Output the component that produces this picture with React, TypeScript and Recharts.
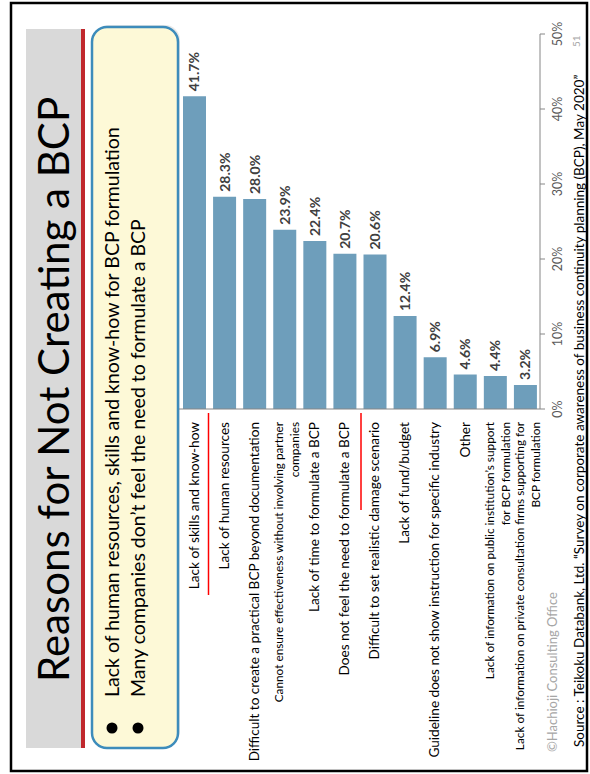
import React from 'react';
import { BarChart, Bar, XAxis, YAxis, LabelList } from 'recharts';

const categories = [
  'Lack of skills and know-how',
  'Lack of human resources',
  'Difficult to create a practical BCP beyond documentation',
  'Cannot ensure effectiveness without involving partner\ncompanies',
  'Lack of time to formulate a BCP',
  'Does not feel the need to formulate a BCP',
  'Difficult to set realistic damage scenario',
  'Lack of fund/budget',
  'Guideline does not show instruction for specific industry',
  'Other',
  'Lack of information on public institution\u2019s support\nfor BCP formulation',
  'Lack of information on private consultation firms supporting for\nBCP formulation',
];
const values = [41.7, 28.3, 28.0, 23.9, 22.4, 20.7, 20.6, 12.4, 6.9, 4.6, 4.4, 3.2];
const tickValues = [0, 10, 20, 30, 40, 50];
const title = 'Reasons for Not Creating a BCP';
const bullets = [
  'Lack of human resources, skills and know-how for BCP formulation',
  'Many companies don\u2019t feel the need to formulate a BCP',
];
const footer = '\u00A9Hachioji Consulting Office';
const source = 'Source : Teikoku Databank, Ltd. \u201CSurvey on corporate awareness of business continuity planning (BCP), May 2020\u201D';
const pageNo = '51';

const FONT = 'Lato, "Open Sans", sans-serif';

const CategoryTick = (props: any) => {
  const { x, y, payload } = props;
  const lines = String(payload.value).split('\n');
  const multi = lines.length > 1;
  const fs = multi ? 11.8 : 13.6;
  const lh = multi ? 16 : 15;
  const startY = y - ((lines.length - 1) * lh) / 2 + (multi ? 3 : 0);
  return (
    <text x={x} y={startY} textAnchor="end" fontFamily={FONT} fontSize={fs} fill="#000">
      {lines.map((l, i) => (
        <tspan key={i} x={x} y={startY + i * lh} dy="0.35em">{l}</tspan>
      ))}
    </text>
  );
};

export default function App() {
  const data = categories.map((c, i) => ({ name: c, value: values[i] }));
  return (
    <div
      style={{
        position: 'absolute',
        left: 0,
        top: 0,
        width: 774,
        height: 590,
        transformOrigin: '0 0',
        transform: 'rotate(-90deg) translateX(-774px)',
        background: '#fff',
        fontFamily: FONT,
      }}
    >
      <svg width={774} height={590} style={{ position: 'absolute', left: 0, top: 0 }}>
        <rect x={3} y={11} width={768} height={576} fill="#fff" stroke="#000" strokeWidth={2.5} />
        <rect x={26} y={26} width={719} height={55} fill="#d9d9d9" />
        <rect x={26} y={81} width={719} height={4} fill="#c0282d" />
        <text x={92} y={69} fontFamily={FONT} fontSize={42} fontWeight={400} fill="#000">{title}</text>
        <rect x={28} y={94} width={721} height={86} rx={15} ry={15} fill="#d8d8d8" opacity={0.6} />
        <rect x={26} y={92} width={721} height={86} rx={15} ry={15} fill="#fdf9d7" stroke="#3d8cbb" strokeWidth={2.5} />
        {bullets.map((b, i) => (
          <g key={i}>
            <circle cx={46} cy={112 + i * 26} r={5.5} fill="#000" />
            <text x={77} y={118.5 + i * 26} fontFamily={FONT} fontSize={19.5} fill="#000">{b}</text>
          </g>
        ))}
        <line x1={179} x2={361} y1={208.5} y2={208.5} stroke="#ff0000" strokeWidth={1.5} />
        <line x1={264} x2={361} y1={361} y2={361} stroke="#ff0000" strokeWidth={1.5} />
        <text x={22} y={557} fontFamily={FONT} fontSize={13} fill="#a6a6a6">{footer}</text>
        <text x={27} y={584} fontFamily={FONT} fontSize={13.5} fill="#000">{source}</text>
        <text x={727} y={580} fontFamily={FONT} fontSize={10} fill="#a6a6a6">{pageNo}</text>
      </svg>
      <div style={{ position: 'absolute', left: 0, top: 0 }}>
        <BarChart
          width={774}
          height={590}
          data={data}
          layout="vertical"
          margin={{ top: 179, right: 34, bottom: 20, left: 10 }}
          barSize={23}
        >
          <XAxis
            type="number"
            domain={[0, 50]}
            ticks={tickValues}
            tickFormatter={(v: number) => `${v}%`}
            axisLine={{ stroke: '#868686' }}
            tickLine={{ stroke: '#868686' }}
            tickSize={5}
            tickMargin={8}
            height={30}
            tick={{ fill: '#595959', fontSize: 12.5, fontFamily: FONT }}
            interval={0}
          />
          <YAxis
            type="category"
            dataKey="name"
            width={355}
            axisLine={{ stroke: '#868686' }}
            tickLine={false}
            tickSize={0}
            tickMargin={13}
            interval={0}
            tick={<CategoryTick />}
          />
          <Bar dataKey="value" fill="#6e9ebb" isAnimationActive={false}>
            <LabelList
              dataKey="value"
              position="right"
              offset={5}
              formatter={(v: any) => `${Number(v).toFixed(1)}%`}
              fill="#404040"
              fontSize={14}
              fontWeight="bold"
              fontFamily={FONT}
            />
          </Bar>
        </BarChart>
      </div>
    </div>
  );
}
